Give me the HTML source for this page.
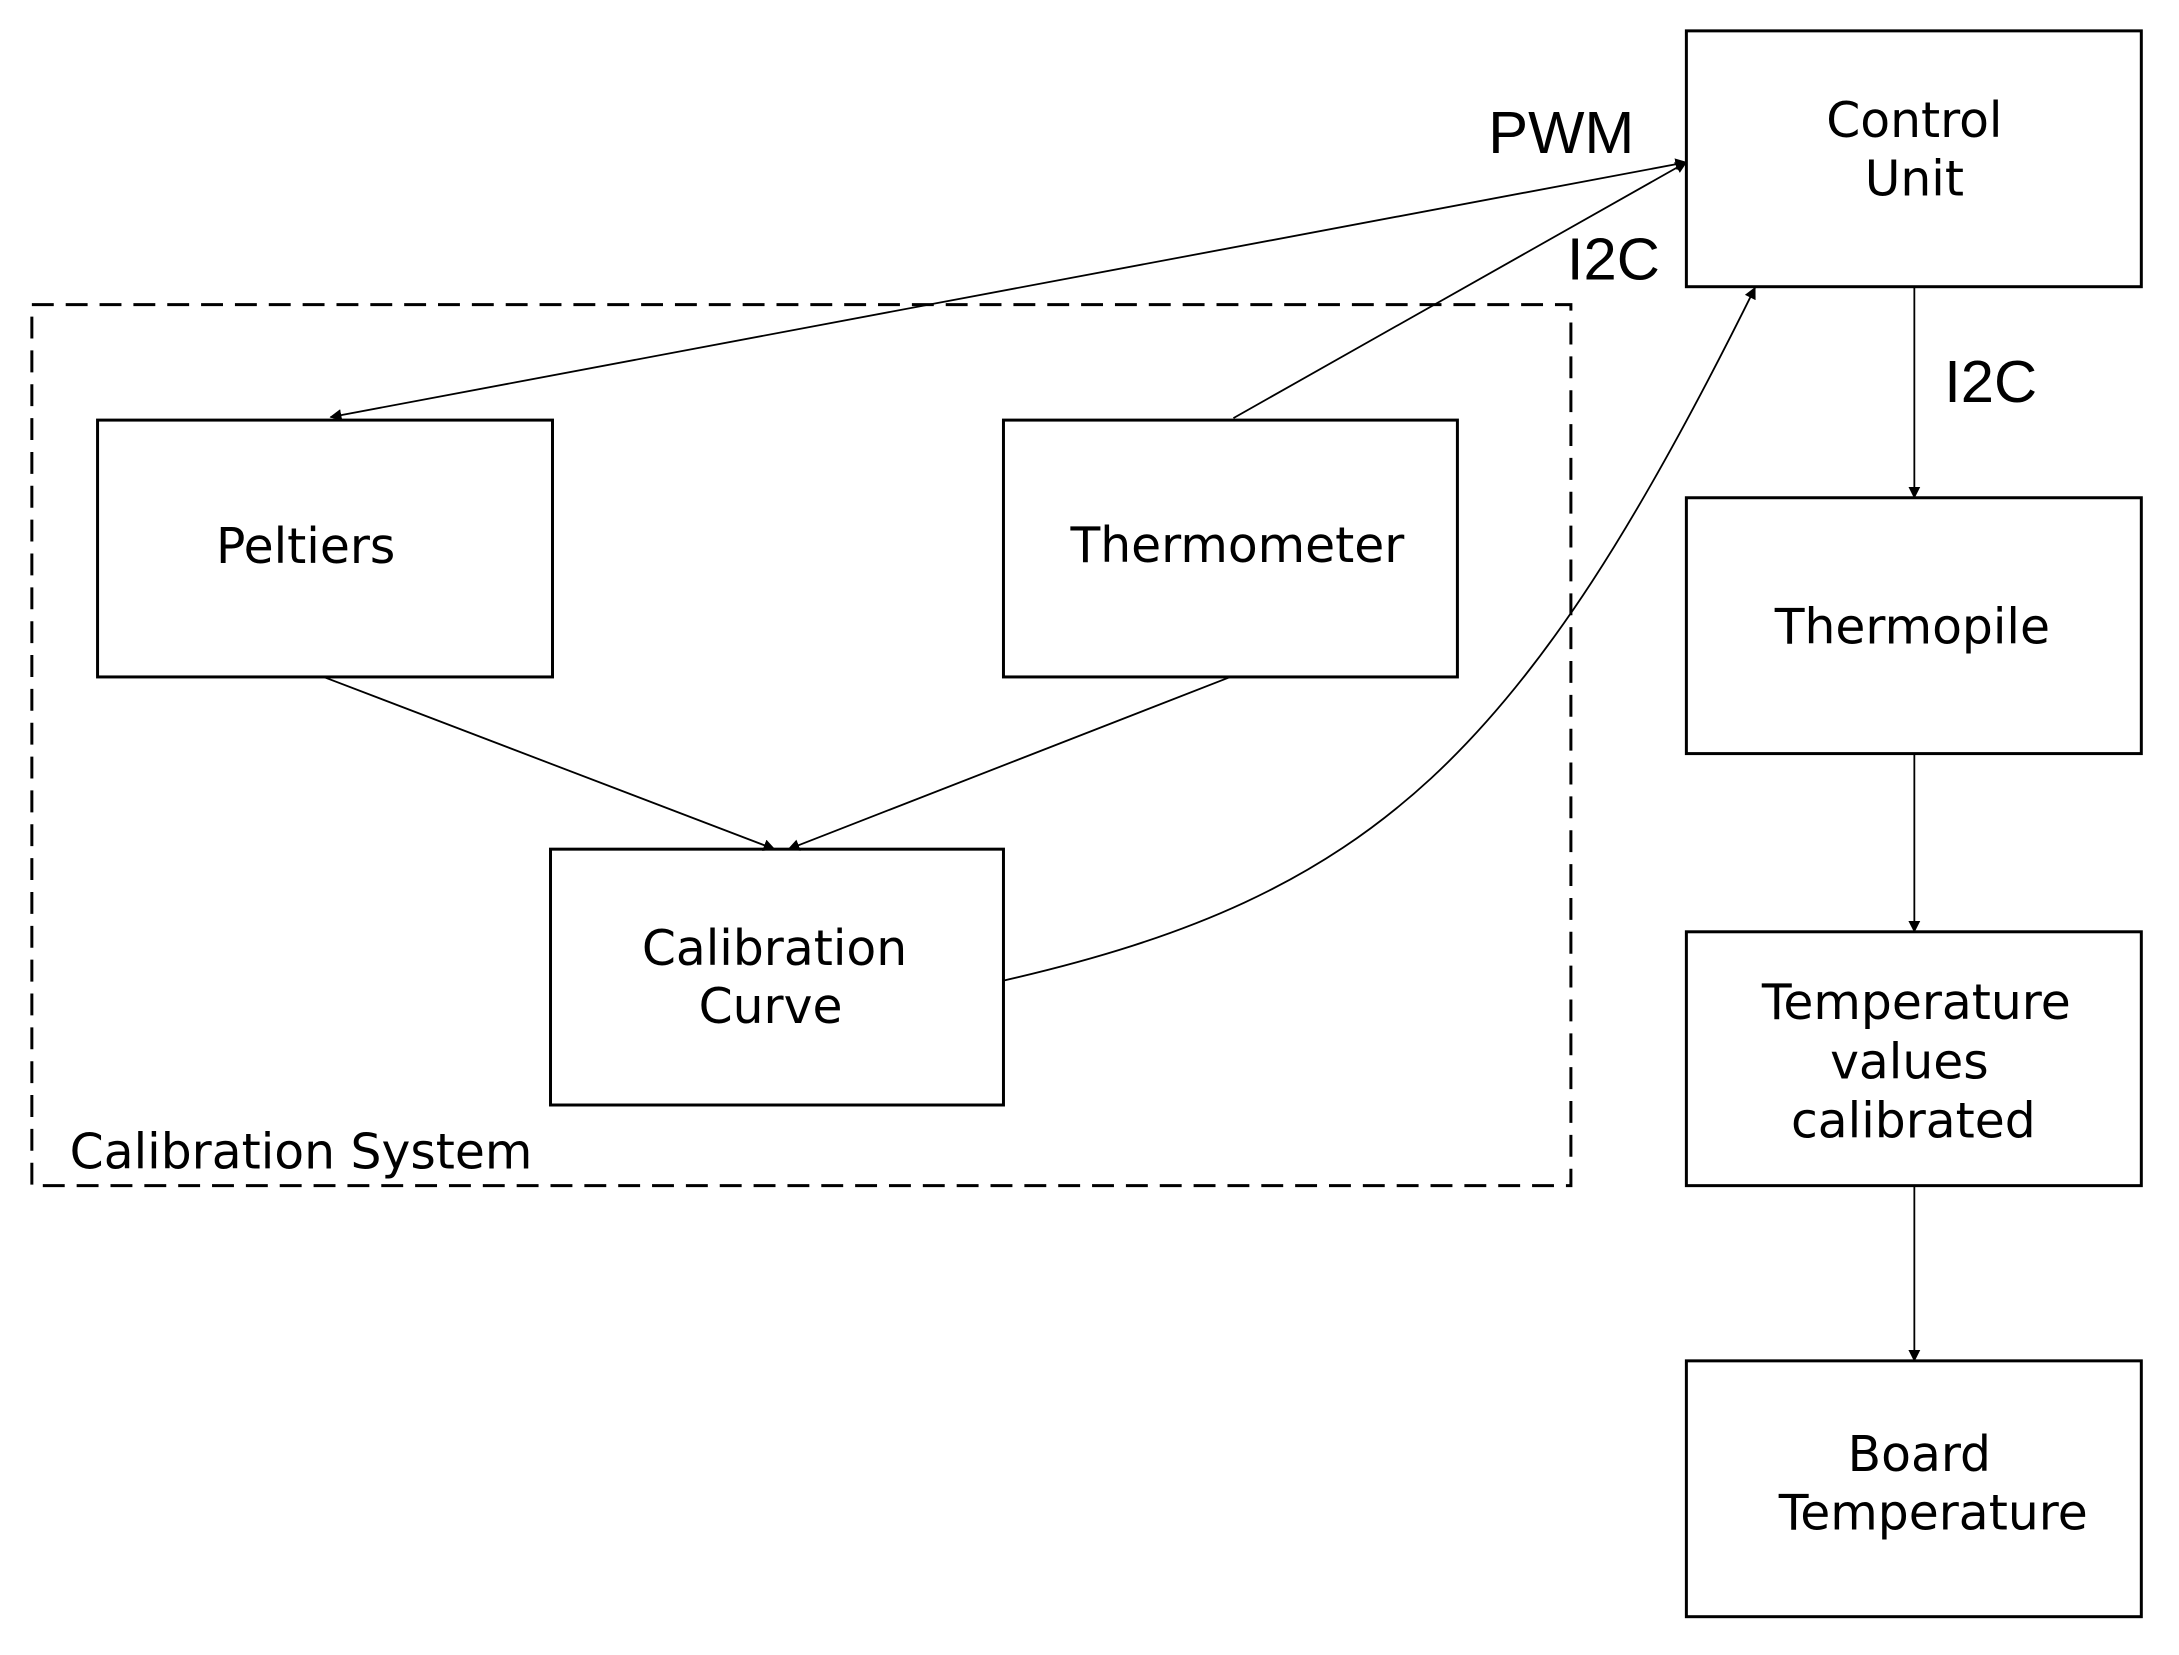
<!DOCTYPE html>
<html><head><meta charset="utf-8"><style>html,body{margin:0;padding:0;background:#fff}svg{display:block}</style></head>
<body>
<svg width="2179" height="1655" viewBox="0 0 2179 1655" xmlns="http://www.w3.org/2000/svg">
<defs>
<marker id="a" markerWidth="12" markerHeight="12" refX="11" refY="6" orient="auto" markerUnits="userSpaceOnUse">
<path d="M0,0 L12,6 L0,12 z" fill="#000"/></marker>
<marker id="s" markerWidth="12" markerHeight="12" refX="1" refY="6" orient="auto" markerUnits="userSpaceOnUse">
<path d="M12,0 L0,6 L12,12 z" fill="#000"/></marker>
</defs>
<g transform="scale(0.9955)">
<g fill="none" stroke="#000" stroke-width="3">
<rect x="32" y="306" width="1546" height="885" stroke-dasharray="22,12"/>
<rect x="1694" y="31" width="457" height="257"/>
<rect x="1694" y="500" width="457" height="257"/>
<rect x="1694" y="936" width="457" height="255"/>
<rect x="1694" y="1367" width="457" height="257"/>
<rect x="98" y="422" width="457" height="258"/>
<rect x="1008" y="422" width="456" height="258"/>
<rect x="553" y="853" width="455" height="257"/>
</g>
<g fill="none" stroke="#000" stroke-width="1.8">
<line x1="332" y1="419" x2="1694" y2="163" marker-start="url(#s)" marker-end="url(#a)"/>
<line x1="1239" y1="420" x2="1694" y2="163" marker-end="url(#a)"/>
<line x1="325" y1="680" x2="778" y2="853" marker-end="url(#a)"/>
<line x1="1236" y1="680" x2="792" y2="853" marker-end="url(#a)"/>
<path d="M1008 985 C1380 900, 1530 760, 1763 289" marker-end="url(#a)"/>
<line x1="1923" y1="288" x2="1923" y2="500" marker-end="url(#a)"/>
<line x1="1923" y1="757" x2="1923" y2="936" marker-end="url(#a)"/>
<line x1="1923" y1="1191" x2="1923" y2="1367" marker-end="url(#a)"/>
</g>
<g font-family="DejaVu Sans, Verdana, sans-serif" font-size="49" fill="#000" text-anchor="middle" dominant-baseline="central">
<text x="1923" y="121">Control</text>
<text x="1923" y="180">Unit</text>
<text x="307" y="549">Peltiers</text>
<text x="1243" y="548">Thermometer</text>
<text x="778" y="953">Calibration</text>
<text x="774" y="1011">Curve</text>
<text x="1921" y="630">Thermopile</text>
<text x="1925" y="1007">Temperature</text>
<text x="1918" y="1067">values</text>
<text x="1922" y="1126">calibrated</text>
<text x="1928" y="1461">Board</text>
<text x="1942" y="1520">Temperature</text>
<text x="70" y="1157" text-anchor="start">Calibration System</text>
</g>
<g font-family="Liberation Sans, sans-serif" font-size="60" fill="#000" dominant-baseline="central">
<text x="1495" y="133">PWM</text>
<text x="1574" y="260">I2C</text>
<text x="1953" y="383">I2C</text>
</g>
</g>
</svg>
</body></html>
